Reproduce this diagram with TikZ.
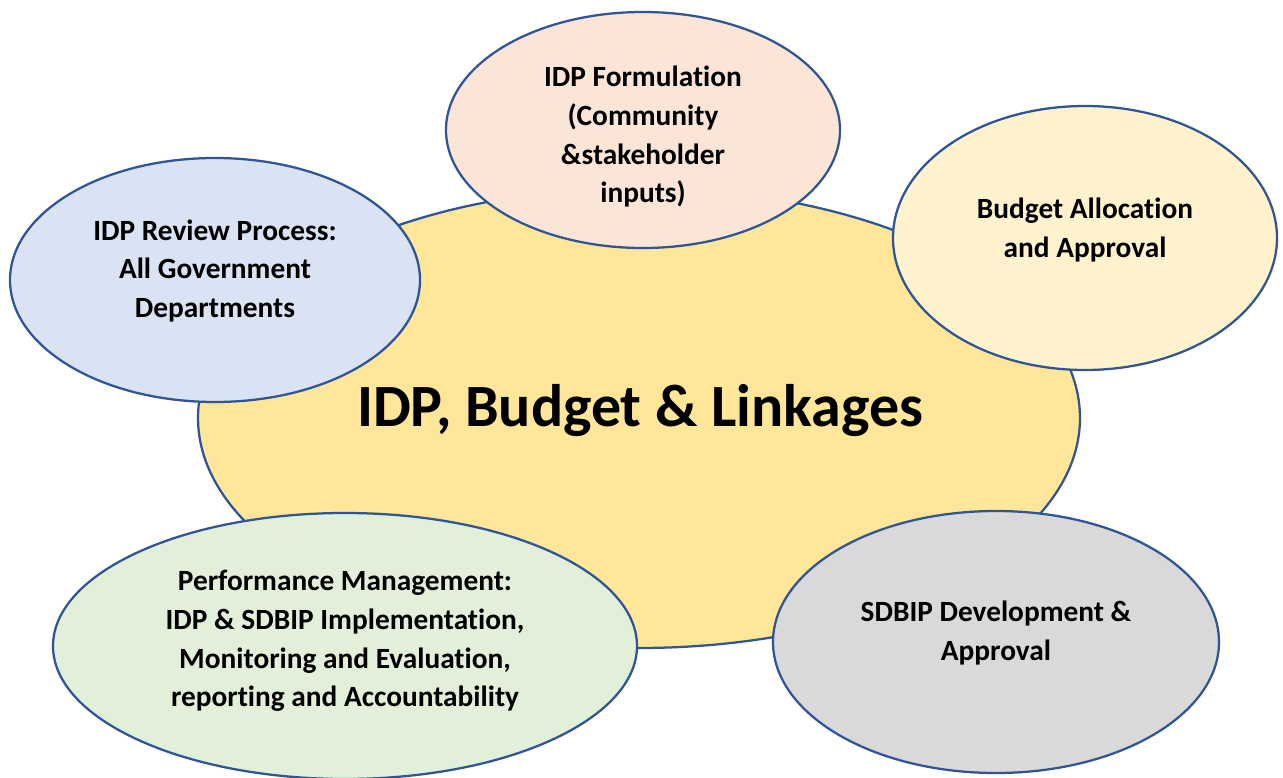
\documentclass[tikz,border=0pt]{standalone}
\usepackage{fontspec}
\setmainfont{Carlito}[Ligatures=NoCommon]
\usetikzlibrary{shapes.geometric}
\definecolor{bordercol}{HTML}{2F5597}
\definecolor{centrefill}{HTML}{FFE699}
\definecolor{formfill}{HTML}{FBE5D6}
\definecolor{budgetfill}{HTML}{FFF2CC}
\definecolor{reviewfill}{HTML}{DAE3F3}
\definecolor{perffill}{HTML}{E2F0D9}
\definecolor{sdbipfill}{HTML}{D9D9D9}
\tikzset{
  bubble/.style={ellipse, draw=bordercol, line width=1.7pt, inner sep=0pt, outer sep=0pt},
  bubbletext/.style={align=center, font=\bfseries\fontsize{22}{29}\selectfont, inner sep=0pt},
  titletext/.style={font=\bfseries\fontsize{45}{54}\selectfont, inner sep=0pt}
}
\begin{document}
\begin{tikzpicture}[x=0.75pt, y=-0.75pt]
\useasboundingbox (0,0) rectangle (1283,778);
% centre
\node[bubble, fill=centrefill, minimum width=882*0.75pt, minimum height=460*0.75pt] (centre) at (639,418) {};
% satellites
\node[bubble, fill=formfill, minimum width=394*0.75pt, minimum height=236*0.75pt] (form) at (643,130) {};
\node[bubble, fill=budgetfill, minimum width=384*0.75pt, minimum height=264*0.75pt] (budget) at (1085,238) {};
\node[bubble, fill=reviewfill, minimum width=410*0.75pt, minimum height=244*0.75pt] (review) at (215,280) {};
\node[bubble, fill=perffill, minimum width=584*0.75pt, minimum height=266*0.75pt] (perf) at (345,646) {};
\node[bubble, fill=sdbipfill, minimum width=446*0.75pt, minimum height=262*0.75pt] (sdbip) at (996,642) {};
% texts
\node[titletext] (title) at (640,411) {IDP, Budget \& Linkages};
\node[bubbletext] (formtext) at (643,137) {IDP Formulation\\(Community\\\&stakeholder\\inputs)};
\node[bubbletext] (budgettext) at (1085,230) {Budget Allocation\\and Approval};
\node[bubbletext] (reviewtext) at (215,271) {IDP Review Process:\\All Government\\Departments};
\node[bubbletext] (perftext) at (345,641) {Performance Management:\\IDP \& SDBIP Implementation,\\Monitoring and Evaluation,\\reporting and Accountability};
\node[bubbletext] (sdbiptext) at (996,633) {SDBIP Development \&\\Approval};
\end{tikzpicture}
\end{document}
